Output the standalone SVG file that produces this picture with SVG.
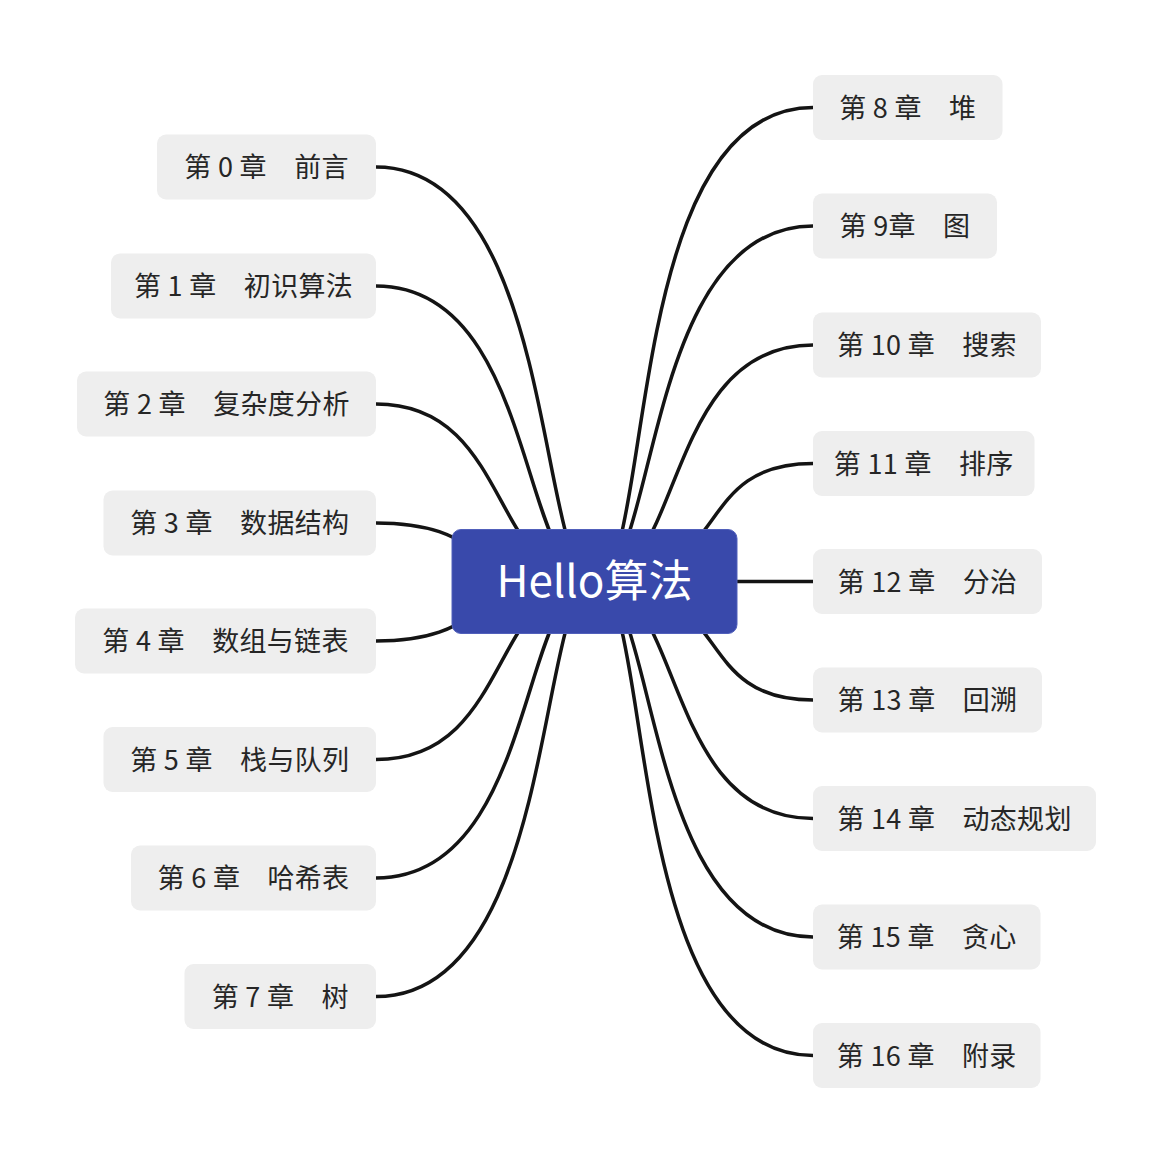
<svg xmlns="http://www.w3.org/2000/svg" width="1171" height="1164" viewBox="0 0 1171 1164">
<style>
.bg{fill:#ffffff}
.edge{fill:none;stroke:#141414;stroke-width:3.5;stroke-linecap:butt}
.box{fill:#eeeeee}
.lbl{font-family:"Noto Sans CJK SC","Noto Sans",sans-serif;font-size:27px;fill:#262626;text-anchor:middle;letter-spacing:0.3px}
.root{fill:#3949ab;stroke:#5160bb;stroke-width:1}
.rootlbl{font-family:"Noto Sans CJK SC","Noto Sans",sans-serif;font-size:44px;fill:#ffffff;text-anchor:middle}
</style>
<rect class="bg" x="0" y="0" width="1171" height="1164"/>
<g id="connectors">
<path class="edge" d="M376,167 C558,167 537,581.5 594.5,581.5"/>
<path class="edge" d="M376,286 C537,286 519,581.5 594.5,581.5"/>
<path class="edge" d="M376,404 C512,404 489,581.5 594.5,581.5"/>
<path class="edge" d="M376,523 C491,523 466,581.5 594.5,581.5"/>
<path class="edge" d="M376,641 C491,641 466,581.5 594.5,581.5"/>
<path class="edge" d="M376,759.5 C512,759.5 489,581.5 594.5,581.5"/>
<path class="edge" d="M376,878 C537,878 519,581.5 594.5,581.5"/>
<path class="edge" d="M376,996.5 C558,996.5 537,581.5 594.5,581.5"/>
<path class="edge" d="M813,107.5 C620,107.5 655,581.5 594.5,581.5"/>
<path class="edge" d="M813,226 C642,226 658,581.5 594.5,581.5"/>
<path class="edge" d="M813,345 C663,345 684,581.5 594.5,581.5"/>
<path class="edge" d="M813,463.5 C688.5,463.5 736,581.5 594.5,581.5"/>
<path class="edge" d="M594.5,581.5 H813"/>
<path class="edge" d="M813,700 C688.5,700 736,581.5 594.5,581.5"/>
<path class="edge" d="M813,818.5 C663,818.5 684,581.5 594.5,581.5"/>
<path class="edge" d="M813,937 C642,937 658,581.5 594.5,581.5"/>
<path class="edge" d="M813,1055.5 C620,1055.5 655,581.5 594.5,581.5"/>
</g>
<g id="root">
<rect class="root" x="452" y="529.5" width="285" height="104" rx="9"/>
<text class="rootlbl" x="594.5" y="597">Hello算法</text>
</g>
<g id="n0"><rect class="box" x="157" y="134.5" width="219" height="65" rx="9"/><text class="lbl" x="266.5" y="177">第 0 章　前言</text></g>
<g id="n1"><rect class="box" x="111" y="253.5" width="265" height="65" rx="9"/><text class="lbl" x="243.5" y="296">第 1 章　初识算法</text></g>
<g id="n2"><rect class="box" x="77" y="371.5" width="299" height="65" rx="9"/><text class="lbl" x="226.5" y="414">第 2 章　复杂度分析</text></g>
<g id="n3"><rect class="box" x="103.5" y="490.5" width="272.5" height="65" rx="9"/><text class="lbl" x="239.75" y="533">第 3 章　数据结构</text></g>
<g id="n4"><rect class="box" x="75" y="608.5" width="301" height="65" rx="9"/><text class="lbl" x="225.5" y="651">第 4 章　数组与链表</text></g>
<g id="n5"><rect class="box" x="103.5" y="727" width="272.5" height="65" rx="9"/><text class="lbl" x="239.75" y="769.5">第 5 章　栈与队列</text></g>
<g id="n6"><rect class="box" x="131" y="845.5" width="245" height="65" rx="9"/><text class="lbl" x="253.5" y="888">第 6 章　哈希表</text></g>
<g id="n7"><rect class="box" x="184.5" y="964" width="191.5" height="65" rx="9"/><text class="lbl" x="280.25" y="1006.5">第 7 章　树</text></g>
<g id="n8"><rect class="box" x="813" y="75" width="189.5" height="65" rx="9"/><text class="lbl" x="907.75" y="117.5">第 8 章　堆</text></g>
<g id="n9"><rect class="box" x="813" y="193.5" width="184" height="65" rx="9"/><text class="lbl" x="905" y="236">第 9章　图</text></g>
<g id="n10"><rect class="box" x="813" y="312.5" width="228" height="65" rx="9"/><text class="lbl" x="927" y="355">第 10 章　搜索</text></g>
<g id="n11"><rect class="box" x="813" y="431" width="221.5" height="65" rx="9"/><text class="lbl" x="923.75" y="473.5">第 11 章　排序</text></g>
<g id="n12"><rect class="box" x="813" y="549" width="229" height="65" rx="9"/><text class="lbl" x="927.5" y="591.5">第 12 章　分治</text></g>
<g id="n13"><rect class="box" x="813" y="667.5" width="229" height="65" rx="9"/><text class="lbl" x="927.5" y="710">第 13 章　回溯</text></g>
<g id="n14"><rect class="box" x="813" y="786" width="283" height="65" rx="9"/><text class="lbl" x="954.5" y="828.5">第 14 章　动态规划</text></g>
<g id="n15"><rect class="box" x="813" y="904.5" width="227.5" height="65" rx="9"/><text class="lbl" x="926.75" y="947">第 15 章　贪心</text></g>
<g id="n16"><rect class="box" x="813" y="1023" width="227.5" height="65" rx="9"/><text class="lbl" x="926.75" y="1065.5">第 16 章　附录</text></g>
</svg>
